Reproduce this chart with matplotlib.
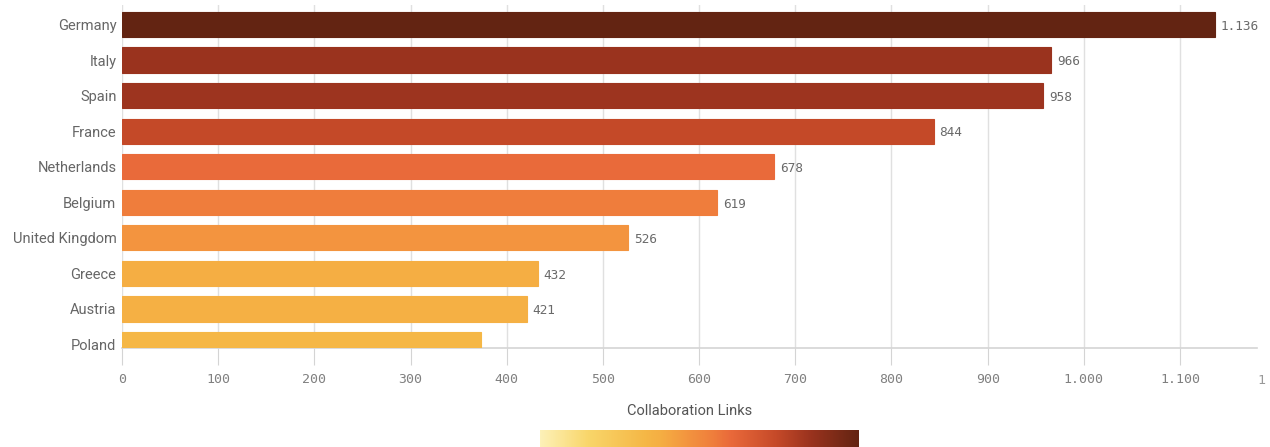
import numpy as np
import matplotlib
matplotlib.use("Agg")
import matplotlib.pyplot as plt
from matplotlib.colors import LinearSegmentedColormap, Normalize
from matplotlib.ticker import FuncFormatter

countries = ["Germany", "Italy", "Spain", "France", "Netherlands", "Belgium",
             "United Kingdom", "Greece", "Austria", "Poland"]
links = [1136, 966, 958, 844, 678, 619, 526, 432, 421, 373]
show_label = [True, True, True, True, True, True, True, True, True, False]
xticks = [0, 100, 200, 300, 400, 500, 600, 700, 800, 900, 1000, 1100]

cmap = LinearSegmentedColormap.from_list("qlik", [
    (0.00, "#fdf1b8"), (0.15, "#f9d66a"), (0.33, "#f5b746"), (0.38, "#f5ae43"),
    (0.46, "#f3953f"), (0.545, "#ef7d3c"), (0.60, "#e9693a"), (0.74, "#c64a29"),
    (0.85, "#9a331e"), (1.00, "#632412")])
norm = Normalize(vmin=0, vmax=max(links))

W, H = 1270, 447
fig = plt.figure(figsize=(W / 100, H / 100), dpi=100)
ax_h = 348 - 5
ax = fig.add_axes([122 / W, 1 - 348 / H, (1257 - 122) / W, ax_h / H])

y = np.arange(len(countries))
colors = [cmap(norm(v)) for v in links]
ax.barh(y, links, height=0.71, color=colors, edgecolor=colors, linewidth=0.8, zorder=3)
for yi, v, s in zip(y, links, show_label):
    if s:
        ax.text(v + 6, yi + 0.05, f"{v:,}".replace(",", "."), va="center", ha="left",
                fontsize=9.2, family="DejaVu Sans Mono", color="#6a6a6a")

ax.set_xlim(0, 1180)
ax.set_ylim(9.1, -0.55)
ax.set_yticks(y)
ax.set_yticklabels(countries, family="Roboto", fontsize=10.5, color="#666666")
ax.set_xticks(xticks)
ax.xaxis.set_major_formatter(FuncFormatter(lambda v, p: f"{int(v):,}".replace(",", ".")))
for lab in ax.get_xticklabels():
    lab.set_family("DejaVu Sans Mono")
    lab.set_fontsize(9.5)
    lab.set_color("#808080")
ax.tick_params(axis="x", length=12, color="#d4d4d4", pad=6)
ax.tick_params(axis="y", length=0, pad=4)
ax.grid(axis="x", color="#e0e0e0", linewidth=1, zorder=0)
for sp in ["top", "right", "left"]:
    ax.spines[sp].set_visible(False)
ax.spines["bottom"].set_color("#d4d4d4")
ax.spines["bottom"].set_linewidth(1.2)

# partially visible 1200 label at right edge
ax.text(1, -(380 - 348) / ax_h, "1", transform=ax.transAxes, ha="left", va="center",
        fontsize=9.5, family="DejaVu Sans Mono", color="#999999", clip_on=False)

fig.text((122 + 1257) / 2 / W, 1 - 411 / H, "Collaboration Links", ha="center", va="center",
         family="Roboto", fontsize=10.5, color="#555555")

cax = fig.add_axes([540 / W, 0, (858 - 540) / W, (447 - 430) / H])
cax.imshow(np.linspace(0, 1, 256)[None, :], aspect="auto", cmap=cmap)
cax.set_axis_off()

fig.savefig("out.png", dpi=100)
